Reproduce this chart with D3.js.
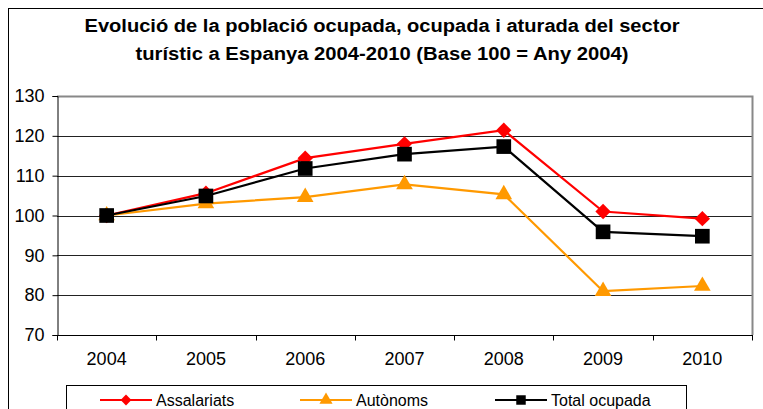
<!DOCTYPE html>
<html>
<head>
<meta charset="utf-8">
<script src="https://cdn.jsdelivr.net/npm/d3@7"></script>
<style>
body{margin:0;background:#fff;}
text{font-family:"Liberation Sans",Arial,sans-serif;}
</style>
</head>
<body>
<script>
//chart values
var years=["2004","2005","2006","2007","2008","2009","2010"];
var assalariats=[100,105.6,114.4,118,121.4,101,99.2];
var autonoms=[100,103,104.6,107.8,105.3,81,82.3];
var totalOcupada=[100,104.9,111.8,115.4,117.3,95.9,94.8];
var yTicks=[70,80,90,100,110,120,130];
var titleLines=["Evolució de la població ocupada, ocupada i aturada del sector","turístic a Espanya 2004-2010 (Base 100 = Any 2004)"];

var series=[
	{name:"Assalariats",values:assalariats,color:"#ff0000",shape:"diamond"},
	{name:"Autònoms",values:autonoms,color:"#ff9900",shape:"triangle"},
	{name:"Total ocupada",values:totalOcupada,color:"#000000",shape:"square"}
];

var width=763,height=409;
var plotLeft=57,plotRight=752,plotTop=96,plotBottom=335;

var svg=d3.select("body").append("svg")
	.attr("width",width)
	.attr("height",height);

//outer chart frame
svg.append("rect")
	.attr("x",8.5).attr("y",8.5)
	.attr("width",width+10).attr("height",height+10)
	.attr("fill","none").attr("stroke","#000").attr("stroke-width",1);

//title (stretched a little like the original)
var titleWidths=[595,493];
svg.selectAll(".title")
	.data(titleLines)
	.enter()
	.append("text")
	.attr("x",382)
	.attr("y",function(d,i){return 32+i*28;})
	.attr("text-anchor","middle")
	.attr("font-weight","bold")
	.attr("font-size",18)
	.attr("textLength",function(d,i){return titleWidths[i];})
	.attr("lengthAdjust","spacingAndGlyphs")
	.text(function(d){return d;});

var x=d3.scaleBand().domain(years).range([plotLeft,plotRight]);
var y=d3.scaleLinear().domain([70,130]).range([plotBottom,plotTop]);

//gridlines
svg.selectAll(".grid")
	.data(yTicks.slice(1,-1))
	.enter()
	.append("line")
	.attr("x1",plotLeft).attr("x2",plotRight)
	.attr("y1",function(d){return Math.round(y(d))+0.5;})
	.attr("y2",function(d){return Math.round(y(d))+0.5;})
	.attr("stroke","#222").attr("stroke-width",1);

//plot area border (top, right)
svg.append("path")
	.attr("d","M"+plotLeft+","+(plotTop+0.5)+"H"+(plotRight+0.5)+"V"+plotBottom)
	.attr("fill","none").attr("stroke","#888").attr("stroke-width",2);

//y axis
var yAxis=svg.append("g")
	.attr("transform","translate("+(plotLeft+0.5)+",0)")
	.call(d3.axisLeft(y).tickValues(yTicks).tickSize(5).tickPadding(8));
yAxis.selectAll("text").attr("font-size",18).attr("fill","#000").style("font-family","'Liberation Sans',Arial,sans-serif");
yAxis.selectAll("path,line").attr("stroke","#000");

//x axis with ticks between categories
var xAxis=svg.append("g")
	.attr("transform","translate(0,"+(plotBottom+0.5)+")");
xAxis.append("line")
	.attr("x1",plotLeft).attr("x2",plotRight+1)
	.attr("stroke","#000");
xAxis.selectAll(".xt")
	.data(years.concat(["end"]))
	.enter()
	.append("line")
	.attr("x1",function(d,i){return Math.round(plotLeft+i*x.bandwidth())+0.5;})
	.attr("x2",function(d,i){return Math.round(plotLeft+i*x.bandwidth())+0.5;})
	.attr("y1",0).attr("y2",5)
	.attr("stroke","#000");
xAxis.selectAll(".xl")
	.data(years)
	.enter()
	.append("text")
	.attr("x",function(d){return x(d)+x.bandwidth()/2;})
	.attr("y",29)
	.attr("text-anchor","middle")
	.attr("font-size",18)
	.text(function(d){return d;});

var symbolTypes={diamond:d3.symbolDiamond2,triangle:d3.symbolTriangle,square:d3.symbolSquare};
var symbolSizes={diamond:150,triangle:120,square:215};

var line=d3.line()
	.x(function(d,i){return x(years[i])+x.bandwidth()/2;})
	.y(function(d){return y(d);});

series.forEach(function(s){
	svg.append("path")
		.datum(s.values)
		.attr("d",line)
		.attr("fill","none")
		.attr("stroke",s.color)
		.attr("stroke-width",2.2);
	svg.selectAll(".m"+s.shape)
		.data(s.values)
		.enter()
		.append("path")
		.attr("d",d3.symbol().type(symbolTypes[s.shape]).size(symbolSizes[s.shape]))
		.attr("transform",function(d,i){return "translate("+(x(years[i])+x.bandwidth()/2)+","+y(d)+")";})
		.attr("fill",s.color);
});

//legend
var legend=svg.append("g");
legend.append("rect")
	.attr("x",66.5).attr("y",385.5)
	.attr("width",620).attr("height",40)
	.attr("fill","#fff").attr("stroke","#000");
var legendX=[100,300,495];
series.forEach(function(s,i){
	var g=legend.append("g").attr("transform","translate("+legendX[i]+",400)");
	g.append("line").attr("x1",0).attr("x2",52).attr("stroke",s.color).attr("stroke-width",2.2);
	g.append("path").attr("d",d3.symbol().type(symbolTypes[s.shape]).size(s.shape=="square"?90:75))
		.attr("transform","translate(26,0)").attr("fill",s.color);
	g.append("text").attr("x",56).attr("y",6).attr("font-size",16).text(s.name);
});
</script>
</body>
</html>
